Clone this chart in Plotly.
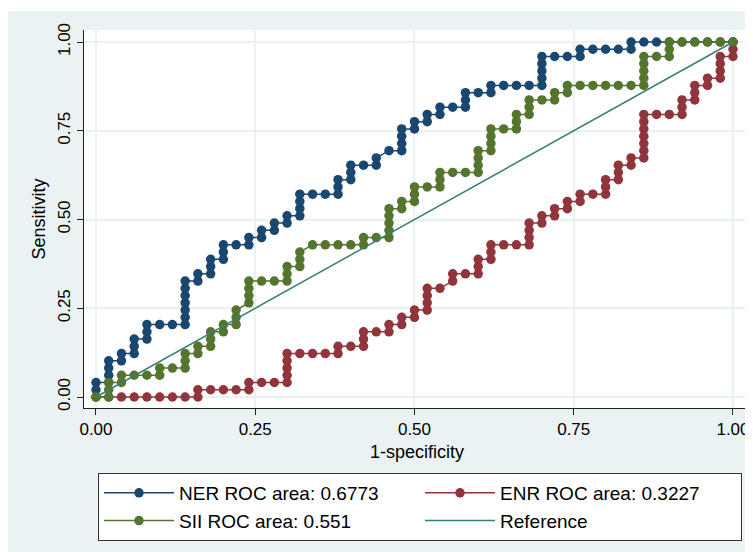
import plotly.graph_objects as go

N_POS = 49
N_NEG = 50

ner_fp = [0, 0, 0, 1, 1, 1, 1, 2, 2, 3, 3, 3, 4, 4, 4, 5, 6, 7, 7, 7, 7, 7, 7, 7,
          8, 8, 9, 9, 9, 10, 10, 10, 11, 12, 12, 13, 13, 14, 14, 15, 15, 16, 16, 16, 16,
          17, 18, 19, 19, 19, 20, 20, 20, 21, 22, 22, 23, 24, 24, 24, 24, 25, 25, 26, 26,
          27, 27, 28, 29, 29, 29, 30, 31, 31, 32, 33, 34, 35, 35, 35, 35, 35, 36, 37,
          38, 38, 39, 40, 41, 42, 42, 43, 44, 45, 46, 47, 48, 49, 50]
ner_tp = [0, 1, 2, 2, 3, 4, 5, 5, 6, 6, 7, 8, 8, 9, 10, 10, 10, 10, 11, 12, 13, 14, 15, 16,
          16, 17, 17, 18, 19, 19, 20, 21, 21, 21, 22, 22, 23, 23, 24, 24, 25, 25, 26, 27, 28,
          28, 28, 28, 29, 30, 30, 31, 32, 32, 32, 33, 34, 34, 35, 36, 37, 37, 38, 38, 39,
          39, 40, 40, 40, 41, 42, 42, 42, 43, 43, 43, 43, 43, 44, 45, 46, 47, 47, 47,
          47, 48, 48, 48, 48, 48, 49, 49, 49, 49, 49, 49, 49, 49, 49]

enr_fp = [0, 1, 2, 3, 4, 5, 6, 7, 8, 8, 9, 10, 11, 12, 12, 13, 14, 15, 15, 15, 15, 15,
          16, 17, 18, 19, 19, 20, 21, 21, 21, 22, 23, 23, 24, 24, 25, 25, 26, 26, 26, 26,
          27, 28, 28, 29, 30, 30, 30, 31, 31, 31, 32, 33, 34, 34, 34, 34, 35, 35, 36, 36,
          37, 37, 38, 38, 39, 40, 40, 40, 41, 41, 41, 42, 42, 43, 43, 43, 43, 43, 43, 43,
          44, 45, 46, 46, 46, 47, 47, 47, 48, 48, 49, 49, 49, 49, 50, 50, 50]
enr_tp = [0, 0, 0, 0, 0, 0, 0, 0, 0, 1, 1, 1, 1, 1, 2, 2, 2, 2, 3, 4, 5, 6,
          6, 6, 6, 6, 7, 7, 7, 8, 9, 9, 9, 10, 10, 11, 11, 12, 12, 13, 14, 15,
          15, 16, 17, 17, 17, 18, 19, 19, 20, 21, 21, 21, 21, 22, 23, 24, 24, 25, 25, 26,
          26, 27, 27, 28, 28, 28, 29, 30, 30, 31, 32, 32, 33, 33, 34, 35, 36, 37, 38, 39,
          39, 39, 39, 40, 41, 41, 42, 43, 43, 44, 44, 45, 46, 47, 47, 48, 49]

sii_fp = [0, 1, 1, 1, 2, 2, 3, 4, 5, 5, 6, 7, 7, 7, 8, 8, 9, 9, 9, 10, 10, 11, 11, 11,
          12, 12, 12, 12, 13, 14, 15, 15, 15, 16, 16, 16, 17, 18, 19, 20, 21, 21, 22,
          23, 23, 23, 23, 23, 24, 24, 25, 25, 25, 26, 27, 27, 27, 28, 29, 30, 30, 30, 30,
          31, 31, 31, 31, 32, 33, 33, 33, 34, 34, 34, 35, 36, 36, 37, 37, 38, 39, 40, 41,
          42, 43, 43, 43, 43, 43, 44, 45, 45, 45, 46, 47, 48, 49, 50]
sii_tp = [0, 0, 1, 2, 2, 3, 3, 3, 3, 4, 4, 4, 5, 6, 6, 7, 7, 8, 9, 9, 10, 10, 11, 12,
          13, 14, 15, 16, 16, 16, 16, 17, 18, 18, 19, 20, 21, 21, 21, 21, 21, 22, 22,
          22, 23, 24, 25, 26, 26, 27, 27, 28, 29, 29, 29, 30, 31, 31, 31, 31, 32, 33, 34,
          34, 35, 36, 37, 37, 37, 38, 39, 39, 40, 41, 41, 41, 42, 42, 43, 43, 43, 43, 43,
          43, 43, 44, 45, 46, 47, 47, 47, 48, 49, 49, 49, 49, 49, 49]

ref_x = [0, 1]
ref_y = [0, 1]

series_names = ["NER ROC area: 0.6773", "ENR ROC area: 0.3227",
                "SII ROC area: 0.551", "Reference"]
tick_vals = [0, 0.25, 0.5, 0.75, 1]
tick_text = ["0.00", "0.25", "0.50", "0.75", "1.00"]

NAVY = "#1A476F"
MAROON = "#90353B"
GREEN = "#55752F"
TEAL = "#3A7D73"
BG = "#EAF2F3"


def rates(fp, tp):
    n = min(len(fp), len(tp))
    return [f / N_NEG for f in fp[:n]], [t / N_POS for t in tp[:n]]


fig = go.Figure()
for (fp, tp), name, col in [((ner_fp, ner_tp), series_names[0], NAVY),
                            ((enr_fp, enr_tp), series_names[1], MAROON),
                            ((sii_fp, sii_tp), series_names[2], GREEN)]:
    xs, ys = rates(fp, tp)
    fig.add_trace(go.Scatter(x=xs, y=ys, mode="lines+markers", name=name,
                             line=dict(color=col, width=1.5),
                             marker=dict(color=col, size=9.5, line=dict(width=0))))
fig.add_trace(go.Scatter(x=ref_x, y=ref_y, mode="lines", name=series_names[3],
                         line=dict(color=TEAL, width=1.5)))

# the page body adds an 8px offset; the figure is sized to fill the rest
W, H = 745, 544
PL, PR, PT, PB = 76, 3, 22, 144
pw = W - PL - PR
ph = H - PT - PB

axis_common = dict(tickvals=tick_vals, ticktext=tick_text, showgrid=True,
                   gridcolor=BG, gridwidth=1.5, zeroline=False, showline=True,
                   linecolor="#222222", linewidth=1, ticks="outside", ticklen=6,
                   tickcolor="#222222", tickwidth=1, automargin=False,
                   tickfont=dict(size=17, color="black"))

fig.update_layout(
    width=W, height=H,
    margin=dict(l=PL, r=PR, t=PT, b=PB, pad=0, autoexpand=False),
    paper_bgcolor=BG, plot_bgcolor="white",
    font=dict(family="Liberation Sans, Arial, Helvetica, sans-serif", size=17, color="black"),
    xaxis=dict(range=[-0.0188, 1.0267],
               title=dict(text="1-specificity", font=dict(size=18), standoff=6),
               **axis_common),
    yaxis=dict(range=[-0.031, 1.0338], tickangle=-90,
               title=dict(text="Sensitivity", font=dict(size=18), standoff=4),
               **axis_common),
    legend=dict(orientation="h", x=(90 - PL) / pw, y=-65 / ph,
                xanchor="left", yanchor="top", bgcolor="white",
                bordercolor="#333333", borderwidth=1,
                font=dict(size=19, color="black"),
                itemwidth=70, entrywidth=236, traceorder="normal"),
    shapes=[
        dict(type="rect", xref="paper", yref="paper", layer="above",
             x0=-PL / pw - 0.01, x1=1 + PR / pw + 0.01,
             y0=(H - PB - 3) / ph, y1=(H - PB) / ph + 0.05,
             fillcolor="white", line=dict(width=0)),
    ],
)

fig.write_html("out.html")
